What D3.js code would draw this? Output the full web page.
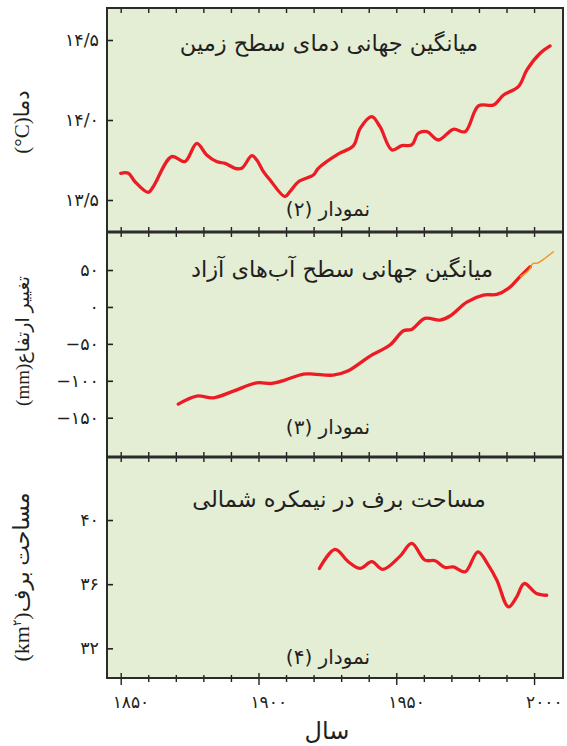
<!DOCTYPE html>
<html><head><meta charset="utf-8">
<script src="https://cdn.jsdelivr.net/npm/d3@7/dist/d3.min.js"></script>
<style>
html,body{margin:0;padding:0;background:#fff;}
svg{display:block;}
text{font-family:"DejaVu Sans",sans-serif;fill:#231f20;}
</style></head>
<body>
<svg id="chart" width="567" height="746"></svg>
<script>
// ---- data ----
const tempYears  = [1850,1852.8,1855.2,1860,1861.8,1868.5,1873.3,1877.6,1881.2,1884.8,1887.9,1891.5,1893.9,1897.6,1899.4,1901.8,1904.2,1909.6,1911.4,1914.5,1919.9,1921.7,1929,1934.4,1936.9,1941.1,1944.1,1948.4,1952,1955.6,1958,1961.1,1965.3,1970.7,1975,1979.8,1985.3,1988.9,1994.3,1997.4,2002.2,2005.8];
const tempValues = [13.667,13.667,13.614,13.548,13.583,13.771,13.74,13.854,13.781,13.74,13.729,13.698,13.698,13.777,13.75,13.677,13.625,13.521,13.552,13.614,13.656,13.698,13.788,13.838,13.948,14.021,13.958,13.813,13.84,13.844,13.917,13.927,13.875,13.942,13.927,14.088,14.094,14.156,14.208,14.313,14.417,14.463];

const seaYears  = [1870.9,1877.6,1883.6,1890.9,1899.4,1904.8,1909.6,1916.3,1919.9,1927.1,1932.6,1940.5,1947.7,1952.6,1955.6,1960.4,1965.9,1969.5,1975.6,1981.6,1986.5,1990.7,1994.9,1998.6];
const seaValues = [-131.6,-120.7,-123,-114,-102.7,-103.6,-99,-90.9,-90.9,-92.3,-86.4,-66.5,-51.6,-32.2,-30.4,-15.5,-17.8,-12.3,6.6,16.1,17,25.2,41,54.5];

const satYears  = [1995.1,1997.9,1999.7,2000.9,2002.2,2007];
const satValues = [41,49,59,59,61.3,74.8];

const snowYears  = [1922.1,1927.8,1932.6,1936.9,1941.1,1945.1,1951.4,1955.6,1960.4,1964.1,1967.7,1970.7,1975,1979.6,1983.4,1986.5,1990.7,1993.7,1996.4,2000.9,2004.6];
const snowValues = [36.98,38.17,37.4,36.98,37.4,36.92,37.75,38.54,37.5,37.46,37.04,37.08,36.77,38.02,37.19,36.25,34.58,35.21,36.04,35.42,35.31];

const xTickValues = [1850,1900,1950,2000];
const xTickLabels = ["۱۸۵۰","۱۹۰۰","۱۹۵۰","۲۰۰۰"];
const tempTicks = [13.5,14,14.5];
const tempTickLabels = ["۱۳/۵","۱۴/۰","۱۴/۵"];
const seaTicks = [-150,-100,-50,0,50];
const seaTickLabels = ["\u2212۱۵۰","\u2212۱۰۰","\u2212۵۰","۰","۵۰"];
const snowTicks = [32,36,40];
const snowTickLabels = ["۳۲","۳۶","۴۰"];

const panelTitles = ["میانگین جهانی دمای سطح زمین","میانگین جهانی سطح آب‌های آزاد","مساحت برف در نیمکره شمالی"];
const panelNames = ["نمودار (۲)","نمودار (۳)","نمودار (۴)"];
const yLabels = ["دما(\u200E°C)","تغییر ارتفاع(mm)","مساحت برف(km"];
const xLabel = "سال";

// ---- layout ----
const svg = d3.select("#chart");
const L = 107, R = 563;
const x = d3.scaleLinear().domain([1845.03, 2010.5]).range([L, R]);

const panels = [
  {top:8, bottom:232, domain:[13.3,14.7], ticks:tempTicks, labels:tempTickLabels,
   series:[{xs:tempYears, ys:tempValues}], titleX:329, titleY:51, nameY:216, labelY:122, labelSize:21},
  {top:232, bottom:457, domain:[-203.2,101.5], ticks:seaTicks, labels:seaTickLabels,
   series:[{xs:seaYears, ys:seaValues},{xs:satYears, ys:satValues, sat:true}], titleX:342, titleY:277, nameY:434, labelY:341, labelSize:19},
  {top:457, bottom:678, domain:[30.15,43.93], ticks:snowTicks, labels:snowTickLabels,
   series:[{xs:snowYears, ys:snowValues}], titleX:339, titleY:507, nameY:664, labelY:577, labelSize:22}
];

const minorYears = d3.range(1850, 2001, 10);

panels.forEach((p, i) => {
  const y = d3.scaleLinear().domain(p.domain).range([p.bottom, p.top]);
  const g = svg.append("g");
  g.append("rect").attr("x", L).attr("y", p.top).attr("width", R - L).attr("height", p.bottom - p.top)
    .attr("fill", "#e3eed5");

  // y axis
  const ya = d3.axisLeft(y).tickValues(p.ticks).tickSizeInner(-6).tickSizeOuter(0).tickPadding(8)
    .tickFormat((d, j) => p.labels[j]);
  const yg = g.append("g").attr("transform", `translate(${L},0)`).call(ya);
  yg.select(".domain").remove();
  yg.selectAll("line").attr("stroke", "#231f20").attr("stroke-width", 1.6);
  yg.selectAll("text").attr("font-size", 17.5).attr("fill", "#231f20").style("font-family", "DejaVu Sans");

  // top x ticks (pointing down)
  const xt = d3.axisTop(x).tickValues(minorYears).tickSizeInner(-5).tickSizeOuter(0).tickFormat("");
  const xtg = g.append("g").attr("transform", `translate(0,${p.top})`).call(xt);
  xtg.select(".domain").remove();
  xtg.selectAll("line").attr("stroke", "#231f20").attr("stroke-width", 1.4);
  // bottom x ticks (pointing up)
  if (i < 2) {
    const xb = d3.axisBottom(x).tickValues(minorYears).tickSizeInner(-5).tickSizeOuter(0).tickFormat("");
    const xbg = g.append("g").attr("transform", `translate(0,${p.bottom})`).call(xb);
    xbg.select(".domain").remove();
    xbg.selectAll("line").attr("stroke", "#231f20").attr("stroke-width", 1.4);
  }

  // lines
  p.series.forEach(s => {
    const pts = s.xs.map((v, k) => [v, s.ys[k]]);
    const line = d3.line().x(d => x(d[0])).y(d => y(d[1])).curve(d3.curveCatmullRom.alpha(0.5));
    g.append("path").attr("d", line(pts)).attr("fill", "none")
      .attr("stroke", s.sat ? "#f7941d" : "#ed1c24")
      .attr("stroke-width", s.sat ? 1.4 : 3.3)
      .attr("stroke-linecap", "round").attr("stroke-linejoin", "round");
  });

  // titles
  g.append("text").attr("x", p.titleX).attr("y", p.titleY).attr("text-anchor", "middle")
    .attr("direction", "rtl").attr("font-size", 22.5).text(panelTitles[i]);
  g.append("text").attr("x", 328).attr("y", p.nameY).attr("text-anchor", "middle")
    .attr("direction", "rtl").attr("font-size", 20).text(panelNames[i]);

  // y label
  const yl = svg.append("text").attr("transform", `translate(29,${p.labelY}) rotate(-90)`)
    .attr("text-anchor", "middle").attr("direction", "rtl").attr("font-size", p.labelSize)
    .style("font-family", "'Liberation Serif','DejaVu Sans',serif");
  if (i === 2) {
    yl.append("tspan").text(yLabels[i]);
    yl.append("tspan").attr("font-size", 12).attr("dy", -8).text("۲");
    yl.append("tspan").attr("dy", 8).text(")");
  } else {
    yl.text(yLabels[i]);
  }
});

// bottom axis ticks crossing the border
const bottomY = 678;
const xbb = d3.axisBottom(x).tickValues(minorYears).tickSizeInner(8).tickSizeOuter(0).tickFormat("");
const xbbg = svg.append("g").attr("transform", `translate(0,${bottomY - 3})`).call(xbb);
xbbg.select(".domain").remove();
xbbg.selectAll("line").attr("stroke", "#231f20").attr("stroke-width", 1.4)
  .attr("y2", d => xTickValues.includes(d) ? 10 : 7)
  .attr("y1", d => xTickValues.includes(d) ? -2 : 0);

// x tick labels
svg.append("g").selectAll("text").data(xTickValues).join("text")
  .attr("x", d => x(d) - 8).attr("y", 708).attr("text-anchor", "start")
  .attr("font-size", 17).text((d, j) => xTickLabels[j]);

// x label
svg.append("text").attr("x", 327).attr("y", 739).attr("text-anchor", "middle")
  .attr("direction", "rtl").attr("font-size", 24).text(xLabel);

// borders
svg.append("rect").attr("x", L).attr("y", 8).attr("width", R - L).attr("height", 678 - 8)
  .attr("fill", "none").attr("stroke", "#2b2b2b").attr("stroke-width", 2);
[232, 457].forEach(yy => {
  svg.append("line").attr("x1", L).attr("x2", R).attr("y1", yy).attr("y2", yy)
    .attr("stroke", "#2b2b2b").attr("stroke-width", 3.2);
});
</script>
</body></html>
